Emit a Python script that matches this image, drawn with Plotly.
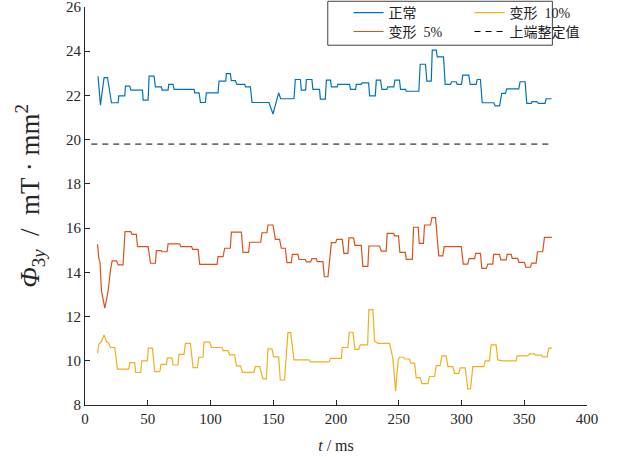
import plotly.graph_objects as go

# Data: flat segments (t_start, t_end, value)
normal_segments = [
    (10.4, 10.4, 22.87), (12.3, 12.3, 21.56), (15.2, 17.9, 22.81), (21.1, 26.4, 21.67),
    (26.9, 31.7, 21.98), (32.2, 35.7, 22.42), (36.5, 45.8, 22.24), (46.3, 50.3, 21.79),
    (51.1, 55.0, 22.87), (56.1, 60.9, 22.39), (61.4, 66.2, 22.24), (66.7, 70.2, 22.50),
    (71.0, 86.9, 22.27), (87.4, 90.9, 22.12), (92.0, 95.9, 21.68), (96.7, 106.0, 22.12),
    (106.8, 112.1, 22.65), (112.7, 115.8, 22.99), (116.6, 119.8, 22.67), (121.1, 127.2, 22.50),
    (128.0, 131.8, 22.39), (133.1, 146.6, 21.68), (149.8, 149.8, 21.16), (154.3, 154.3, 22.12),
    (155.9, 166.5, 21.85), (167.6, 171.6, 22.72), (172.4, 175.8, 22.24), (176.4, 180.8, 22.72),
    (181.6, 186.9, 22.27), (187.5, 191.5, 21.83), (192.3, 195.7, 22.69), (196.3, 201.0, 22.39),
    (201.5, 210.8, 22.50), (211.6, 215.6, 22.27), (216.2, 220.1, 22.50), (220.9, 226.0, 22.57),
    (226.8, 231.3, 21.98), (232.1, 235.5, 22.69), (236.6, 240.5, 22.27), (241.3, 246.1, 22.39),
    (246.9, 250.6, 22.69), (251.4, 255.4, 22.27), (256.0, 266.0, 22.19), (267.1, 271.3, 23.41),
    (272.4, 275.9, 22.65), (276.7, 279.9, 24.05), (280.7, 285.7, 23.74), (287.0, 291.2, 22.50),
    (292.3, 295.8, 22.62), (296.6, 300.0, 22.50), (301.0, 305.8, 22.92), (306.9, 311.7, 22.50),
    (312.5, 315.1, 22.72), (316.5, 325.7, 21.67), (326.8, 330.3, 21.53), (332.1, 335.0, 22.09),
    (336.1, 345.6, 22.30), (346.7, 350.7, 22.62), (352.0, 355.5, 21.64), (356.3, 360.0, 21.72),
    (361.3, 366.6, 21.64), (367.4, 371.9, 21.85),
]

deform5_segments = [
    (10.0, 10.0, 15.27), (11.0, 11.0, 14.64), (12.0, 12.0, 14.44), (13.1, 13.1, 13.16),
    (15.8, 15.8, 12.38), (18.4, 18.4, 13.16), (20.3, 20.3, 14.10), (21.6, 25.1, 14.52),
    (26.4, 30.3, 14.34), (31.9, 36.5, 15.84), (37.5, 41.0, 15.72), (41.8, 50.3, 15.16),
    (52.2, 56.1, 14.41), (56.9, 60.9, 14.98), (61.4, 65.4, 14.93), (66.2, 75.5, 15.29),
    (76.3, 85.0, 15.16), (85.8, 90.1, 15.04), (91.4, 105.2, 14.36), (106.0, 110.0, 14.71),
    (111.3, 115.8, 15.09), (116.6, 124.6, 15.82), (125.9, 130.4, 14.90), (131.2, 140.0, 15.36),
    (141.0, 145.0, 15.79), (145.8, 149.8, 16.14), (151.7, 155.1, 15.49), (156.4, 159.6, 15.09),
    (160.9, 164.4, 14.44), (165.2, 169.7, 14.81), (170.5, 175.5, 14.58), (176.4, 179.8, 14.47),
    (180.8, 184.3, 14.62), (185.1, 189.6, 14.48), (190.7, 193.6, 13.80), (196.3, 199.7, 15.34),
    (200.7, 205.0, 15.49), (206.3, 209.5, 14.86), (210.3, 214.0, 15.56), (215.1, 220.1, 15.22),
    (221.4, 225.4, 14.27), (226.2, 234.7, 15.19), (236.1, 240.0, 14.96), (240.8, 245.9, 15.76),
    (246.7, 249.8, 15.65), (250.9, 255.2, 14.90), (256.0, 260.8, 14.59), (261.8, 265.5, 16.04),
    (266.3, 269.7, 15.31), (270.5, 275.3, 16.14), (276.4, 279.3, 16.47), (281.9, 285.1, 14.74),
    (286.2, 299.8, 15.16), (301.4, 305.0, 14.37), (306.1, 310.4, 14.62), (311.4, 315.1, 14.86),
    (316.2, 319.7, 14.18), (321.0, 324.9, 14.37), (325.7, 330.3, 14.81), (331.3, 335.6, 14.56),
    (336.4, 339.6, 14.81), (340.4, 344.8, 14.63), (345.6, 350.2, 14.45), (351.2, 354.9, 14.23),
    (356.0, 359.5, 14.42), (360.5, 364.7, 14.93), (366.1, 372.0, 15.58),
]

deform10_segments = [
    (10.0, 10.0, 10.34), (11.0, 11.0, 10.75), (13.1, 13.1, 10.87), (15.2, 15.2, 11.17),
    (17.1, 17.1, 10.87), (19.0, 19.0, 10.79), (20.3, 23.7, 10.60), (25.9, 34.9, 9.62),
    (35.7, 39.6, 9.92), (40.4, 44.4, 9.47), (45.2, 49.7, 10.00), (50.5, 53.7, 10.57),
    (55.6, 59.6, 9.51), (60.6, 64.9, 9.84), (65.7, 69.3, 10.13), (70.1, 74.1, 9.81),
    (74.9, 78.9, 10.29), (80.0, 84.0, 10.79), (86.1, 89.6, 9.69), (90.6, 94.0, 10.16),
    (94.8, 99.4, 10.84), (100.7, 109.2, 10.60), (110.0, 114.0, 10.46), (115.3, 119.3, 10.27),
    (120.6, 124.0, 9.77), (125.4, 134.6, 9.48), (135.7, 139.2, 9.74), (141.8, 144.5, 9.18),
    (145.8, 149.0, 10.54), (150.3, 154.3, 10.18), (155.6, 159.0, 9.13), (161.7, 163.9, 11.27),
    (166.5, 178.4, 10.04), (179.8, 194.4, 9.95), (195.7, 204.2, 10.11), (205.0, 209.5, 10.60),
    (210.6, 213.5, 11.29), (215.1, 218.2, 10.52), (219.3, 225.2, 10.72), (226.2, 229.4, 12.31),
    (230.7, 230.7, 10.90), (233.4, 242.7, 10.79), (245.3, 245.3, 10.11), (247.5, 247.5, 8.64),
    (249.6, 249.6, 10.04), (250.6, 253.8, 10.16), (254.9, 258.6, 10.08), (259.6, 262.6, 9.89),
    (263.9, 267.1, 9.24), (268.4, 273.2, 8.97), (274.5, 278.5, 9.29), (279.8, 283.0, 9.78),
    (284.3, 287.8, 10.22), (289.1, 293.1, 9.74), (294.4, 297.8, 9.43), (299.0, 303.0, 9.68),
    (305.0, 307.2, 8.73), (309.0, 317.8, 9.74), (318.9, 322.3, 10.00), (323.6, 327.6, 10.72),
    (328.9, 328.9, 10.04), (332.9, 343.5, 10.00), (344.3, 352.8, 10.22), (354.1, 358.1, 10.31),
    (358.9, 363.5, 10.26), (364.7, 368.2, 10.18), (369.5, 372.0, 10.57),
]

setting_t = [5.0, 372.0]
setting_value = [19.8, 19.8]

x_ticks = [0, 50, 100, 150, 200, 250, 300, 350, 400]
y_ticks = [8, 10, 12, 14, 16, 18, 20, 22, 24, 26]

names = ["正常", "变形  5%", "变形  10%", "上端整定值"]
colors = ["#0072BD", "#D95319", "#EDB120", "#000000"]


def expand(segs):
    xs, ys = [], []
    for t0, t1, v in segs:
        xs.append(t0)
        ys.append(v)
        if t1 != t0:
            xs.append(t1)
            ys.append(v)
    return xs, ys


fig = go.Figure()
x0, y0 = expand(normal_segments)
x1, y1 = expand(deform5_segments)
x2, y2 = expand(deform10_segments)

fig.add_trace(go.Scatter(x=x0, y=y0, mode="lines", name=names[0],
                         line=dict(color=colors[0], width=1.2), legend="legend"))
fig.add_trace(go.Scatter(x=x1, y=y1, mode="lines", name=names[1],
                         line=dict(color=colors[1], width=1.2), legend="legend2"))
fig.add_trace(go.Scatter(x=x2, y=y2, mode="lines", name=names[2],
                         line=dict(color=colors[2], width=1.2), legend="legend3"))
fig.add_trace(go.Scatter(x=setting_t, y=setting_value, mode="lines", name=names[3],
                         line=dict(color=colors[3], width=1, dash="6px,5px"), legend="legend4"))

font_family = "Liberation Serif, Noto Sans CJK SC, serif"
legend_font = dict(family="Liberation Serif, Noto Sans CJK SC", size=14, color="#222")


def leg(x, y):
    return dict(x=x, y=y, xanchor="left", yanchor="middle", bgcolor="rgba(0,0,0,0)",
                font=legend_font, borderwidth=0, itemwidth=30)


col1_x, col2_x = 0.525, 0.766
row1_y, row2_y = 0.985, 0.9374

fig.update_layout(
    width=619, height=457,
    margin=dict(l=85, r=31.5, t=6.75, b=52, autoexpand=False),
    paper_bgcolor="white", plot_bgcolor="white",
    font=dict(family=font_family, size=15, color="#262626"),
    showlegend=True,
    legend=leg(col1_x, row1_y),
    legend2=leg(col1_x, row2_y),
    legend3=leg(col2_x, row1_y),
    legend4=leg(col2_x, row2_y),
    shapes=[dict(type="rect", xref="paper", yref="paper",
                 x0=0.4836, x1=0.931, y0=0.904, y1=1.0144,
                 line=dict(color="#404040", width=1), fillcolor="rgba(0,0,0,0)")],
    xaxis=dict(range=[0, 400], tickvals=x_ticks, ticks="inside", ticklen=5,
               showline=True, linecolor="#262626", linewidth=1, tickcolor="#262626",
               showgrid=False, zeroline=False, mirror=False, automargin=False,
               tickfont=dict(size=15, family=font_family), ticklabeloverflow="allow",
               title=dict(text="<i>t</i> / ms", font=dict(size=16, family=font_family), standoff=13)),
    yaxis=dict(range=[8, 26], tickvals=y_ticks, ticks="inside", ticklen=5,
               showline=True, linecolor="#262626", linewidth=1, tickcolor="#262626",
               showgrid=False, zeroline=False, mirror=False, automargin=False,
               tickfont=dict(size=15, family=font_family), ticklabeloverflow="allow",
               title=dict(text="&nbsp;&nbsp;&nbsp;<i>Φ</i><sub>3<i>y</i></sub>  /  mT · mm<sup>2</sup>",
                          font=dict(size=27, family=font_family), standoff=18)),
)

fig.write_html("out.html", post_script="document.body.style.margin='0';",
               config={"displayModeBar": False})
